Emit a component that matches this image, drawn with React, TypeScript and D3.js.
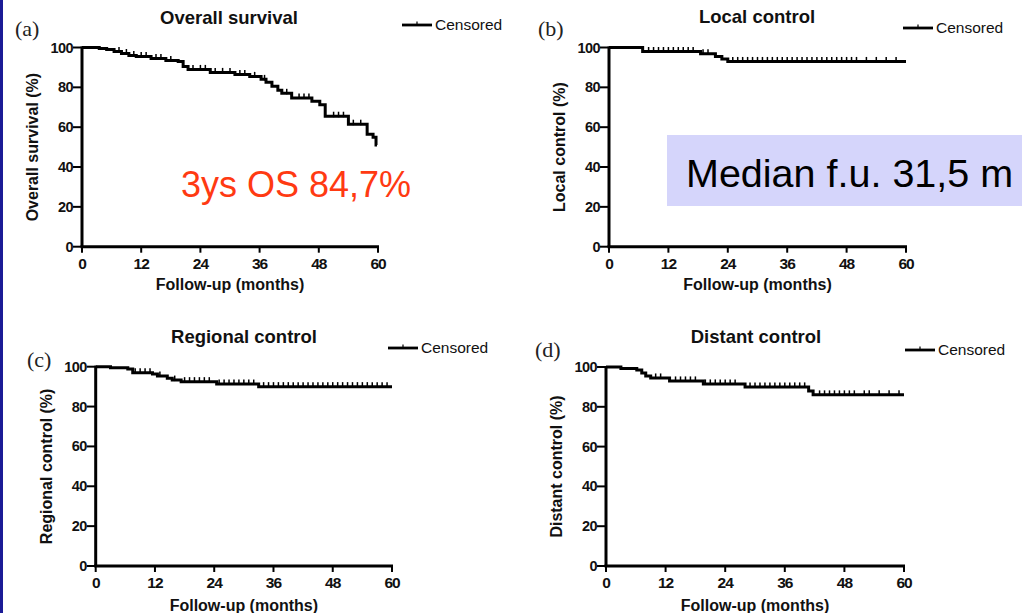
import React from "react";
import * as d3 from "d3";

// Kaplan-Meier step data: event times (months) and estimate (%) after each step
const osTimes = [0, 3.5, 5, 6.5, 8, 9.5, 11, 14, 17, 19.5, 20.5, 21.5, 26, 31, 34, 36.3, 37.3, 38.5, 39.7, 40.5, 42.5, 46.6, 48.2, 49.3, 54, 57.8, 59, 59.6];
const osValues = [100, 99.5, 99, 98, 97, 96, 95.5, 94.5, 93.5, 93, 90.5, 89, 87.5, 86.5, 85.5, 84, 82.5, 80.5, 78.5, 77, 74.7, 73, 71.2, 65.5, 61.5, 56.5, 55, 51];
const osCensored = [7.5, 9, 10.5, 12, 13, 15, 16, 18, 22.5, 24, 25, 27, 28.5, 30, 32, 33, 35, 37, 41.5, 44, 45, 46, 51, 52, 53, 55, 56.5];
const osEnd = 59.8;

const lcTimes = [0, 6.8, 18.5, 21.5, 22.8, 24];
const lcValues = [100, 98, 96.8, 95.5, 94.2, 93];
const lcCensored = [8, 9, 10, 11, 12, 13, 14, 15, 16, 17, 19, 20, 25, 26, 27, 28, 29, 30, 31, 32, 33, 34, 35, 36, 37, 38, 39, 40, 41, 42, 43, 44, 45, 46, 47, 48, 49, 50, 52, 54, 56, 58];
const lcEnd = 60;

const rcTimes = [0, 3, 6.5, 7.5, 11.5, 12.5, 14.5, 15.5, 17.3, 24.5, 33];
const rcValues = [100, 99.5, 98.8, 97, 96.3, 95.3, 94.2, 93.3, 92.5, 91.3, 90];
const rcCensored = [8, 9, 10, 11, 13, 16, 18, 19, 20, 21, 22, 23, 25, 26, 27, 28, 29, 30, 31, 32, 34, 35, 36, 37, 38, 39, 40, 41, 42, 43, 44, 45, 46, 47, 48, 49, 50, 51, 52, 53, 54, 55, 56, 57, 58, 59];
const rcEnd = 60;

const dcTimes = [0, 3, 6.2, 7.2, 8, 9, 12.8, 19.6, 28, 40.8, 41.7];
const dcValues = [100, 99.3, 98.5, 97, 95.5, 94.5, 93, 91.5, 90, 88, 86];
const dcCensored = [10, 11, 14, 15, 16, 17, 18, 20, 21, 22, 23, 24, 25, 26, 29, 30, 31, 32, 33, 34, 35, 36, 37, 38, 39, 40, 43, 44, 45, 46, 47, 48, 49, 50, 52, 53, 55, 57, 59];
const dcEnd = 60;

const xTicks = [0, 12, 24, 36, 48, 60];
const yTicks = [0, 20, 40, 60, 80, 100];

const SANS = "'Liberation Sans', Arial, Helvetica, sans-serif";
const SERIF = "'Liberation Serif', 'Times New Roman', serif";

type PanelProps = {
  letter: string;
  title: string;
  yLabel: string;
  times: number[];
  values: number[];
  censored: number[];
  end: number;
  xRange: [number, number];
  yRange: [number, number];
  letterPos: [number, number];
  titlePos: [number, number];
  legendPos: [number, number];
  yLabelX: number;
  xLabelY: number;
};

function Panel(p: PanelProps) {
  const x = d3.scaleLinear().domain([0, 60]).range(p.xRange);
  const y = d3.scaleLinear().domain([0, 100]).range(p.yRange);
  const pts: [number, number][] = p.times.map((t, i) => [t, p.values[i]]);
  pts.push([p.end, p.values[p.values.length - 1]]);
  const line = d3
    .line<[number, number]>()
    .x((d) => x(d[0]))
    .y((d) => y(d[1]))
    .curve(d3.curveStepAfter);
  const at = (t: number) => p.values[Math.max(0, d3.bisectRight(p.times, t) - 1)];
  const x0 = p.xRange[0];
  const y0 = p.yRange[0];
  const yMid = (p.yRange[0] + p.yRange[1]) / 2;
  const xMid = (p.xRange[0] + p.xRange[1]) / 2;
  const [lx, ly] = p.legendPos;
  return (
    <g>
      <text x={p.letterPos[0]} y={p.letterPos[1]} fontFamily={SERIF} fontSize={22} fill="#222">
        {p.letter}
      </text>
      <text x={p.titlePos[0]} y={p.titlePos[1]} textAnchor="middle" fontFamily={SANS} fontSize={18.5} fontWeight="bold" fill="#111">
        {p.title}
      </text>
      {/* legend */}
      <line x1={lx} x2={lx + 30} y1={ly} y2={ly} stroke="#000" strokeWidth={2.8} />
      <line x1={lx + 15} x2={lx + 15} y1={ly - 3.5} y2={ly} stroke="#000" strokeWidth={1.2} />
      <text x={lx + 33} y={ly + 5} fontFamily={SANS} fontSize={15.5} fill="#111">
        Censored
      </text>
      {/* axes */}
      <line x1={x0} x2={x0} y1={y(100) - 1} y2={y0} stroke="#000" strokeWidth={3} />
      <line x1={x0 - 1.5} x2={x(60) + 1} y1={y0} y2={y0} stroke="#000" strokeWidth={3} />
      {yTicks.map((v) => (
        <g key={"y" + v}>
          <line x1={x0 - 9} x2={x0} y1={y(v)} y2={y(v)} stroke="#000" strokeWidth={2} />
          <text x={x0 - 9} y={y(v) + 5} textAnchor="end" fontFamily={SANS} fontSize={14.5} fontWeight="bold" fill="#111" letterSpacing={-0.6}>
            {v}
          </text>
        </g>
      ))}
      {xTicks.map((t) => (
        <g key={"x" + t}>
          <line x1={x(t)} x2={x(t)} y1={y0} y2={y0 + 6} stroke="#000" strokeWidth={2} />
          <text x={x(t)} y={y0 + 22} textAnchor="middle" fontFamily={SANS} fontSize={15.5} fontWeight="bold" fill="#111" letterSpacing={-1}>
            {t}
          </text>
        </g>
      ))}
      <text x={xMid} y={p.xLabelY} textAnchor="middle" fontFamily={SANS} fontSize={16} fontWeight="bold" fill="#111">
        Follow-up (months)
      </text>
      <text
        transform={`translate(${p.yLabelX},${yMid}) rotate(-90)`}
        textAnchor="middle"
        fontFamily={SANS}
        fontSize={16}
        fontWeight="bold"
        fill="#111"
      >
        {p.yLabel}
      </text>
      {/* survival curve */}
      <path d={line(pts) || ""} fill="none" stroke="#000" strokeWidth={3} />
      {p.censored.map((t, i) => (
        <line key={i} x1={x(t)} x2={x(t)} y1={y(at(t)) - 4.5} y2={y(at(t)) + 1} stroke="#000" strokeWidth={1.5} />
      ))}
    </g>
  );
}

export default function App() {
  return (
    <svg
      width={1022}
      height={613}
      viewBox="0 0 1022 613"
      style={{ position: "fixed", left: 0, top: 0, background: "#fff" }}
    >
      <rect x={0} y={0} width={1022} height={613} fill="#fff" />
      <rect x={0} y={0} width={3} height={613} fill="#1b1b96" />

      <Panel
        letter="(a)"
        title="Overall survival"
        yLabel="Overall survival (%)"
        times={osTimes}
        values={osValues}
        censored={osCensored}
        end={osEnd}
        xRange={[82, 378]}
        yRange={[246.7, 47.5]}
        letterPos={[15, 36]}
        titlePos={[229, 24]}
        legendPos={[402, 25]}
        yLabelX={38}
        xLabelY={290}
      />
      <Panel
        letter="(b)"
        title="Local control"
        yLabel="Local control (%)"
        times={lcTimes}
        values={lcValues}
        censored={lcCensored}
        end={lcEnd}
        xRange={[609, 906]}
        yRange={[246.7, 47.5]}
        letterPos={[538, 36]}
        titlePos={[757, 23]}
        legendPos={[903, 28]}
        yLabelX={565}
        xLabelY={290}
      />
      <Panel
        letter="(c)"
        title="Regional control"
        yLabel="Regional control (%)"
        times={rcTimes}
        values={rcValues}
        censored={rcCensored}
        end={rcEnd}
        xRange={[95.7, 392]}
        yRange={[566, 366.7]}
        letterPos={[27, 367]}
        titlePos={[244, 343]}
        legendPos={[388, 348]}
        yLabelX={52}
        xLabelY={611}
      />
      <Panel
        letter="(d)"
        title="Distant control"
        yLabel="Distant control (%)"
        times={dcTimes}
        values={dcValues}
        censored={dcCensored}
        end={dcEnd}
        xRange={[606, 904]}
        yRange={[566, 367]}
        letterPos={[535, 357]}
        titlePos={[756, 343]}
        legendPos={[905, 350]}
        yLabelX={562}
        xLabelY={611}
      />

      {/* annotations */}
      <text x={181} y={197} fontFamily={SANS} fontSize={36} fill="#ff3a12">
        3ys OS 84,7%
      </text>
      <rect x={667} y={135} width={355} height={71} fill="#d5d5fb" />
      <text x={686} y={187} fontFamily={SANS} fontSize={39.5} fill="#000">
        Median f.u. 31,5 m
      </text>
    </svg>
  );
}
